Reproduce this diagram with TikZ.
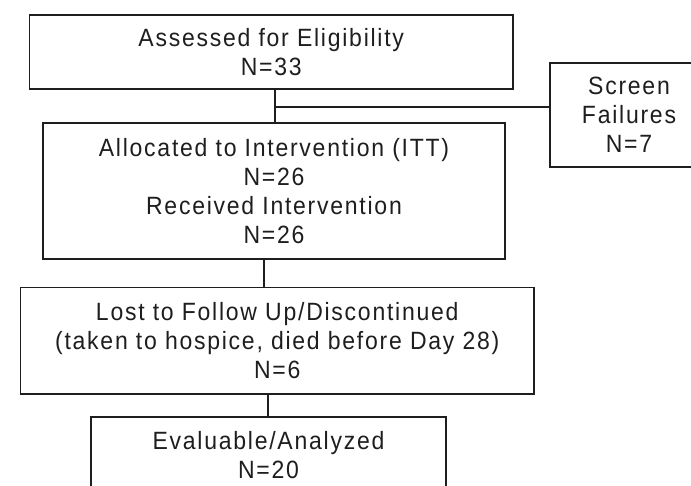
\documentclass[tikz,border=0pt]{standalone}
\usepackage{fontspec}
\setmainfont[LetterSpace=7, FakeStretch=0.92]{Liberation Sans}
\definecolor{ink}{HTML}{1E1E1E}
\begin{document}
\begin{tikzpicture}[x=1pt,y=-1pt,
  box/.style={draw=ink, line width=1.4pt, inner sep=0pt, align=center, text=ink,
    font=\fontsize{25}{29}\selectfont},
  link/.style={draw=ink, line width=1.4pt}]
\path[use as bounding box, clip] (0,0) rectangle (691,485);
\fill[white] (0,0) rectangle (691,485);
\node[box, minimum width=483.5pt, minimum height=74pt] (b1) at (271.25,52) {Assessed for Eligibility\\N=33};
\node[box, minimum width=158pt, minimum height=104pt] (sf) at (629,115) {Screen\\Failures\\N=7};
\node[box, minimum width=462pt, minimum height=136pt] (b2) at (274,191) {Allocated to Intervention (ITT)\\N=26\\Received Intervention\\N=26};
\node[box, minimum width=513.5pt, minimum height=106.5pt] (b3) at (277.25,340.75) {Lost to Follow Up/Discontinued\\(taken to hospice, died before Day 28)\\N=6};
\node[box, minimum width=355pt, minimum height=76pt] (b4) at (268.5,455) {Evaluable/Analyzed\\N=20};
\coordinate (j1) at (275,107);
\coordinate (j2) at (264,273);
\coordinate (j3) at (268,405);
\draw[link] (j1 |- b1.south) -- (j1 |- b2.north);
\draw[link] (j1) -- (j1 -| sf.west);
\draw[link] (j2 |- b2.south) -- (j2 |- b3.north);
\draw[link] (j3 |- b3.south) -- (j3 |- b4.north);
\end{tikzpicture}
\end{document}
